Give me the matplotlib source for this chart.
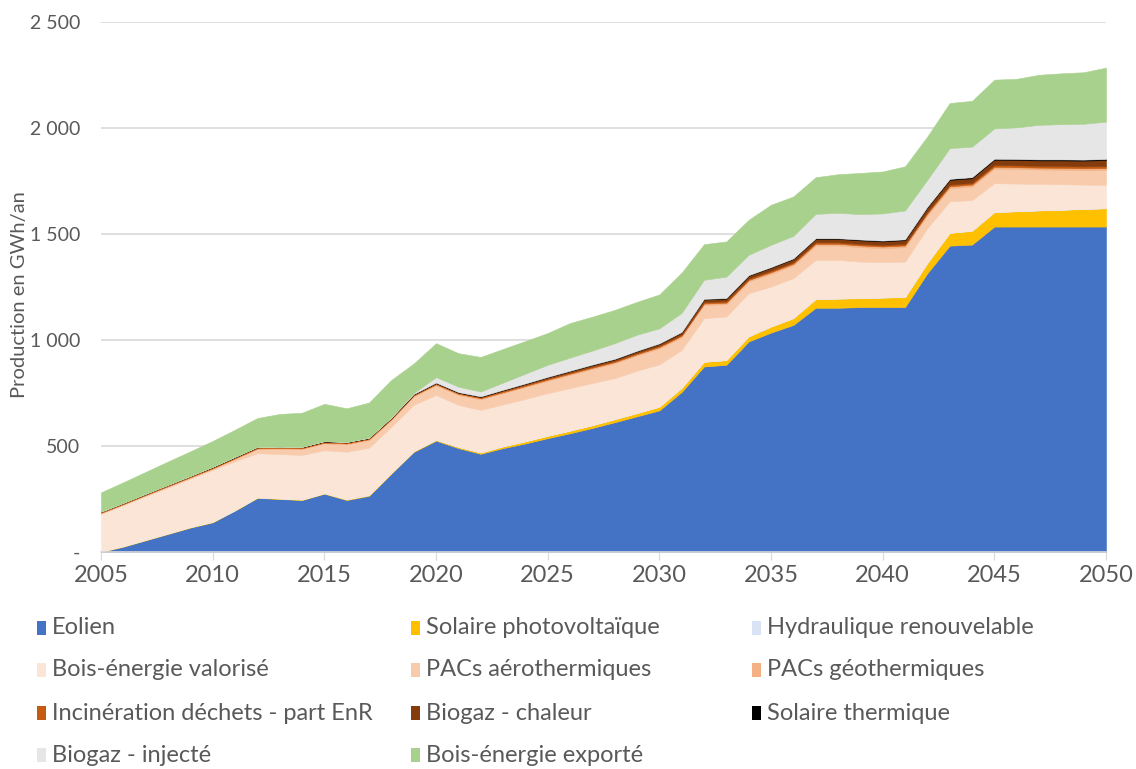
import matplotlib
matplotlib.use("Agg")
import matplotlib.pyplot as plt
from matplotlib.patches import Rectangle
from matplotlib.ticker import FuncFormatter

plt.rcParams['font.family'] = ['Lato', 'DejaVu Sans']

annees = list(range(2005, 2051))

# Production en GWh/an, par filière
eolien = [0, 25, 55, 85, 115, 140, 195, 255, 250, 245,
          275, 245, 265, 370, 472, 525, 490, 463, 490, 512,
          537, 560, 585, 612, 640, 668, 755, 875, 883, 993,
          1035, 1071, 1152, 1152, 1155, 1155, 1155, 1315, 1445, 1450,
          1535, 1535, 1535, 1535, 1535, 1535]
solaire_pv = [2, 2, 2, 2, 2, 2, 2, 2, 2, 2,
              2, 3, 3, 3, 3, 4, 5, 6, 8, 10,
              11, 12, 13, 14, 15, 17, 19, 22, 22, 24,
              28, 32, 41, 43, 42, 45, 47, 48, 60, 65,
              68, 72, 76, 79, 83, 86]
hydraulique = [1] * 46
bois_valorise = [177, 193, 205, 216, 228, 244, 230, 208, 209, 210,
                 202, 224, 223, 217, 218, 211, 198, 200, 197, 199,
                 200, 200, 198, 193, 199, 199, 178, 205, 205, 203,
                 188, 188, 184, 182, 172, 166, 167, 164, 148, 144,
                 136, 130, 124, 120, 114, 110]
pac_aero = [4, 4, 5, 5, 5, 6, 12, 20, 25, 28,
            32, 35, 36, 32, 40, 45, 47, 50, 53, 56,
            58, 62, 66, 70, 72, 75, 60, 62, 58, 55,
            60, 60, 68, 68, 68, 66, 68, 60, 62, 64,
            68, 68, 68, 68, 68, 70]
pac_geo = [1, 1, 1, 2, 2, 2, 2, 3, 3, 3,
           4, 4, 4, 4, 4, 5, 5, 5, 5, 5,
           6, 6, 6, 6, 6, 7, 7, 7, 7, 7,
           8, 8, 8, 8, 8, 8, 8, 9, 9, 9,
           9, 9, 9, 9, 9, 9]
incineration = [5, 5, 5, 5, 5, 5, 5, 5, 5, 5,
                5, 5, 5, 5, 5, 5, 5, 5, 6, 6,
                6, 6, 6, 6, 6, 6, 6, 7, 7, 7,
                7, 7, 7, 7, 7, 7, 7, 8, 8, 8,
                9, 9, 9, 9, 9, 10]
biogaz_chaleur = [0, 0, 0, 0, 0, 0, 0, 0, 0, 0,
                  0, 0, 0, 0, 0, 1, 1, 2, 3, 4,
                  5, 6, 7, 7, 8, 9, 10, 12, 12, 13,
                  14, 15, 16, 16, 17, 17, 18, 20, 22, 22,
                  24, 25, 25, 26, 27, 28]
solaire_thermique = [0.5, 1, 1, 1, 1, 2, 2, 2, 2, 2,
                     2, 2, 2, 2, 2, 2, 2, 2, 2, 2,
                     2, 2, 2, 2, 2, 2, 2, 3, 3, 3,
                     3, 3, 3, 3, 4, 4, 4, 4, 5, 5,
                     5, 5, 5, 5, 5, 5]
biogaz_injecte = [0, 0, 0, 0, 0, 0, 0, 0, 0, 0,
                  0, 0, 0, 2, 5, 26, 26, 23, 34, 46,
                  57, 62, 66, 74, 76, 71, 90, 90, 101, 96,
                  105, 106, 115, 120, 120, 128, 136, 127, 145, 144,
                  143, 149, 163, 166, 169, 176]
bois_exporte = [91, 97, 103, 110, 116, 122, 128, 136, 154, 161,
                176, 159, 166, 176, 139, 160, 158, 163, 159, 154,
                150, 163, 160, 157, 155, 160, 190, 168, 166, 165,
                189, 186, 173, 182, 194, 198, 208, 204, 213, 216,
                230, 229, 236, 240, 243, 255]

series = [eolien, solaire_pv, hydraulique, bois_valorise, pac_aero, pac_geo,
          incineration, biogaz_chaleur, solaire_thermique, biogaz_injecte,
          bois_exporte]
noms = ["Eolien", "Solaire photovoltaïque", "Hydraulique renouvelable",
        "Bois-énergie valorisé", "PACs aérothermiques", "PACs géothermiques",
        "Incinération déchets - part EnR", "Biogaz - chaleur", "Solaire thermique",
        "Biogaz - injecté", "Bois-énergie exporté"]
couleurs = ["#4472C4", "#FFC000", "#DAE3F3", "#FBE5D6", "#F8CBAD", "#F4B183",
            "#C55A11", "#843C0C", "#000000", "#E7E6E6", "#A9D18E"]

gris = "#595959"

fig = plt.figure(figsize=(11.36, 7.69), dpi=100)
ax = fig.add_axes([101 / 1136, 1 - 552 / 769, 1005 / 1136, 530 / 769])

polys = ax.stackplot(annees, *series, colors=couleurs, linewidth=0.4)
for p, c in zip(polys, couleurs):
    p.set_edgecolor(c)

ax.set_xlim(2005, 2050)
ax.set_ylim(0, 2500)
ax.set_xticks(range(2005, 2051, 5))
ax.set_yticks(range(0, 2501, 500))


def fmt_y(v, pos):
    if v == 0:
        return "-"
    return f"{int(v):,}".replace(",", " ")


ax.yaxis.set_major_formatter(FuncFormatter(fmt_y))
ax.tick_params(axis='y', length=0, labelsize=14, labelcolor=gris, pad=15)
ax.tick_params(axis='x', length=6, color="#D9D9D9", labelsize=17,
               labelcolor=gris, pad=3)
ax.grid(axis='y', color="#D9D9D9", linewidth=1.2)
ax.set_axisbelow(True)
for s in ["top", "right", "left"]:
    ax.spines[s].set_visible(False)
ax.spines["bottom"].set_color("#D9D9D9")
ax.spines["bottom"].set_linewidth(1.2)

fig.text(20 / 1136, 1 - 295 / 769, "Production en GWh/an", rotation=90,
         ha='center', va='center', fontsize=14.5, color=gris)

# Légende en 3 colonnes sous le graphique
col_x = [37, 411, 752]
row_y = [628, 670, 713, 755]
for i, (nom, c) in enumerate(zip(noms, couleurs)):
    r, k = divmod(i, 3)
    x0, y0 = col_x[k], row_y[r]
    fig.patches.append(Rectangle((x0 / 1136, 1 - (y0 + 7) / 769), 9 / 1136, 14 / 769,
                                 transform=fig.transFigure, facecolor=c,
                                 edgecolor='none'))
    fig.text((x0 + 15) / 1136, 1 - y0 / 769, nom, ha='left', va='center',
             fontsize=17, color=gris)

fig.savefig("out.png", dpi=100)
